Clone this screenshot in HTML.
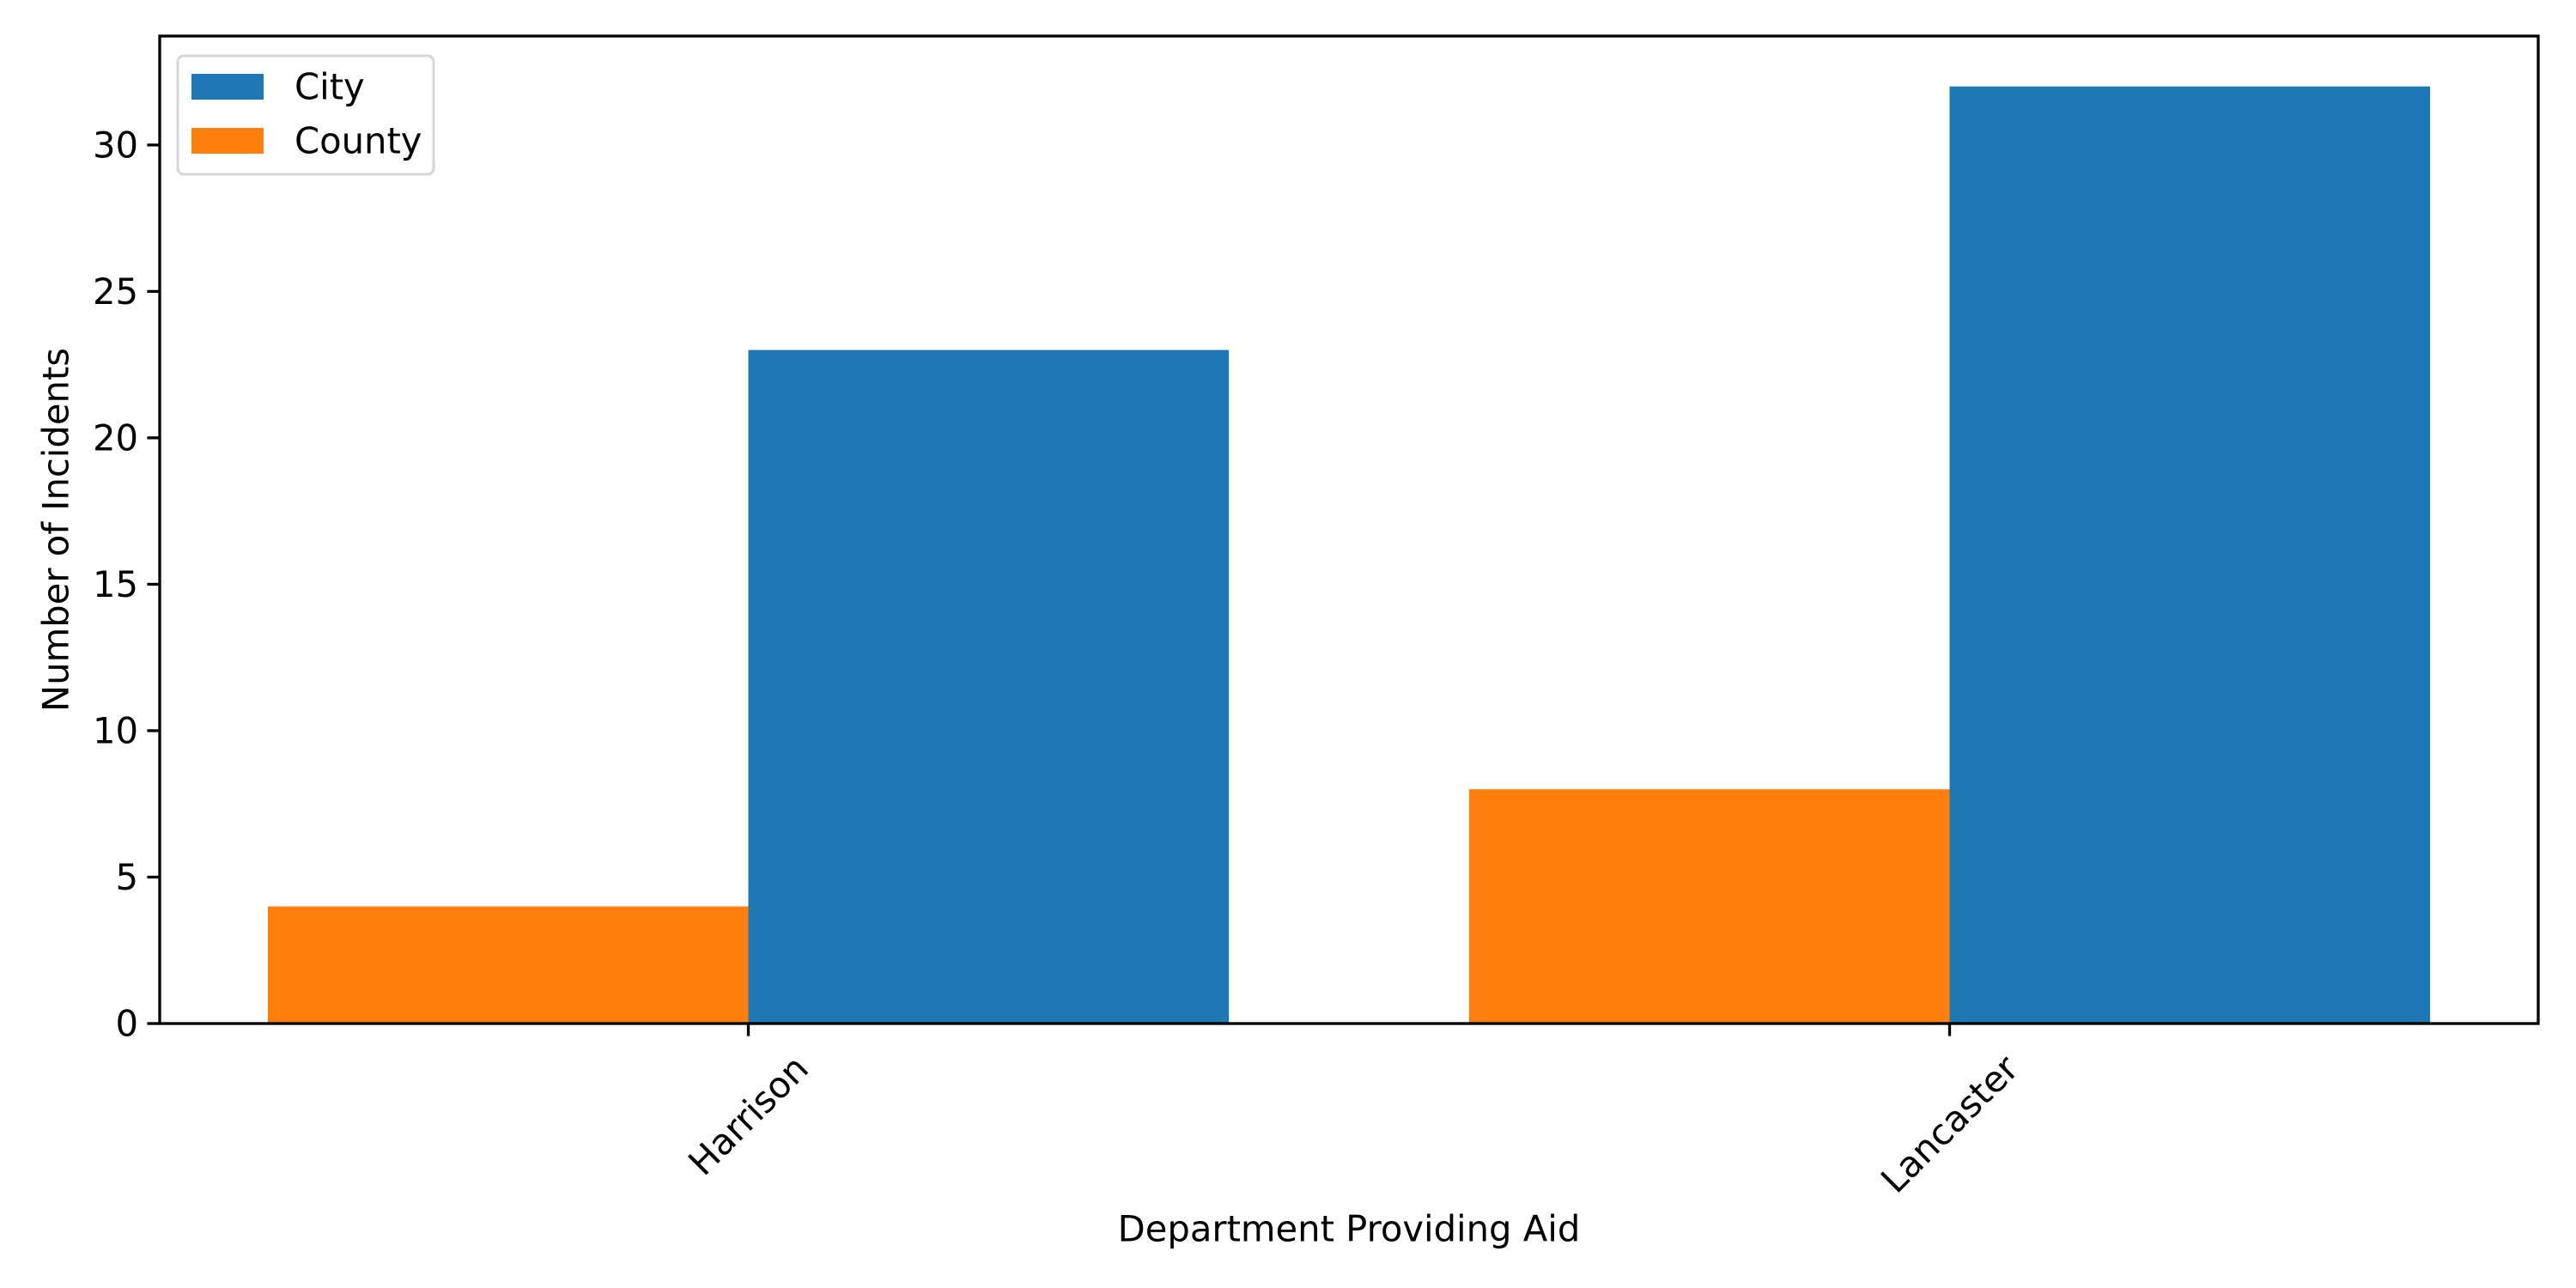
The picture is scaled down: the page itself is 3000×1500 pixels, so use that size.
<!DOCTYPE html>
<html><head><meta charset="utf-8"><style>html,body{margin:0;padding:0;background:#fff}svg{display:block}text{font-family:"DejaVu Sans","Liberation Sans",sans-serif;fill:#000}</style></head>
<body>
<svg id="chart" width="3000" height="1500" viewBox="0 0 3000 1500" xmlns="http://www.w3.org/2000/svg">
<rect width="3000" height="1500" fill="#fff"/>
<g id="bars"></g>
<rect x="186" y="42" width="2770" height="1150" fill="none" stroke="#000" stroke-width="3.3"/>
<g id="axes"></g>
<text x="0" y="0" font-size="41.7" text-anchor="middle" dominant-baseline="central" transform="translate(65,617) rotate(-90)">Number of Incidents</text>
<text x="1571" y="1431" font-size="41.7" text-anchor="middle" dominant-baseline="central">Department Providing Aid</text>
<g>
<rect x="207" y="65" width="298" height="138" rx="7" fill="#fff" fill-opacity="0.8" stroke="#d6d6d6" stroke-width="3"/>
<rect x="223" y="86" width="84" height="30" fill="#1f77b4"/>
<text x="343" y="101" font-size="41.7" dominant-baseline="central">City</text>
<rect x="223" y="149" width="84" height="30" fill="#ff7f0e"/>
<text x="343" y="164" font-size="41.7" dominant-baseline="central">County</text>
</g>
</svg>
<script>
const categories = ["Harrison", "Lancaster"];
const cityValues = [23, 32];
const countyValues = [4, 8];
const yTicks = [0, 5, 10, 15, 20, 25, 30];

const L=186,R=2956,T=42,B=1192;
const xMin=-0.49,xMax=1.49,yMax=33.72;
const xs=v=>L+(v-xMin)/(xMax-xMin)*(R-L);
const ys=v=>B-v/yMax*(B-T);
const NS="http://www.w3.org/2000/svg";
const bars=document.getElementById('bars'),axes=document.getElementById('axes');
function mk(tag,attrs,parent){const e=document.createElementNS(NS,tag);for(const k in attrs)e.setAttribute(k,attrs[k]);parent.appendChild(e);return e;}
const bw=0.4;
categories.forEach((c,i)=>{
  const o=mk('rect',{x:xs(i-bw),y:ys(countyValues[i]),width:xs(i)-xs(i-bw),height:B-ys(countyValues[i]),fill:'#ff7f0e'},bars);
  
  
  const b=mk('rect',{x:xs(i),y:ys(cityValues[i]),width:xs(i+bw)-xs(i),height:B-ys(cityValues[i]),fill:'#1f77b4'},bars);
  
  
  const t=mk('line',{x1:xs(i),x2:xs(i),y1:B,y2:B+14.6,stroke:'#000','stroke-width':3.3},axes);
  
  
  const lb=mk('text',{'font-size':41.7,'text-anchor':'middle','dominant-baseline':'central'},axes);
  lb.textContent=c;
  
  
  const w=lb.getComputedTextLength(),h=41.7;
  const half=(w+h)/Math.SQRT2/2;
  lb.setAttribute('transform','translate('+xs(i)+','+(1222+half)+') rotate(-45)');
});
yTicks.forEach(v=>{
  const t=mk('line',{x1:L-14.6,x2:L,y1:ys(v),y2:ys(v),stroke:'#000','stroke-width':3.3},axes);
  
  
  const lb=mk('text',{x:161,y:ys(v),'font-size':41.7,'text-anchor':'end','dominant-baseline':'central'},axes);
  lb.textContent=v;
  
  
});
</script>
</body></html>
